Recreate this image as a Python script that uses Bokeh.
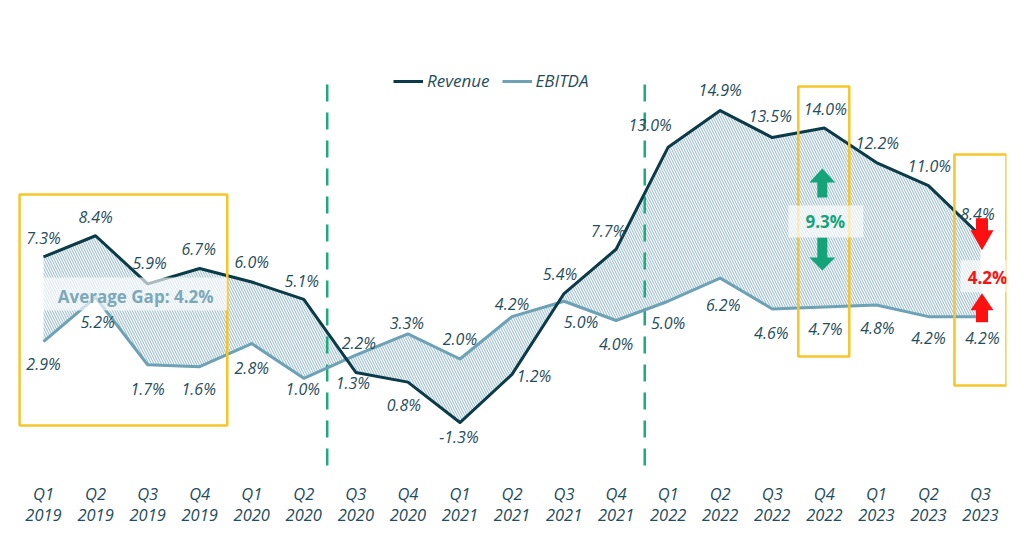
import numpy as np
from bokeh.plotting import figure
from bokeh.models import (ColumnDataSource, Range1d, FixedTicker, Legend, LegendItem,
                          Label, BoxAnnotation, LinearAxis)
from bokeh.core.properties import value
from bokeh.embed import file_html
from bokeh.resources import INLINE

# ---------------- data ----------------
quarters = ["Q1", "Q2", "Q3", "Q4", "Q1", "Q2", "Q3", "Q4", "Q1", "Q2",
            "Q3", "Q4", "Q1", "Q2", "Q3", "Q4", "Q1", "Q2", "Q3"]
years = ["2019", "2019", "2019", "2019", "2020", "2020", "2020", "2020", "2021", "2021",
         "2021", "2021", "2022", "2022", "2022", "2022", "2023", "2023", "2023"]
revenue = [7.3, 8.4, 5.9, 6.7, 6.0, 5.1, 1.3, 0.8, -1.3, 1.2,
           5.4, 7.7, 13.0, 14.9, 13.5, 14.0, 12.2, 11.0, 8.4]
ebitda = [2.9, 5.2, 1.7, 1.6, 2.8, 1.0, 2.2, 3.3, 2.0, 4.2,
          5.0, 4.0, 5.0, 6.2, 4.6, 4.7, 4.8, 4.2, 4.2]

# ---------------- layout / style ----------------
FW, FH = 989, 430
X0, X1 = -0.5, 18.5
Y0, Y1 = -3.79, 18.54
PXX = FW / (X1 - X0)
PXY = FH / (Y1 - Y0)

DARK = "#0b3a48"
LIGHT = "#6da2b6"
TXT = "#1f4e5e"
YELLOW = "#f6c529"
GREEN = "#15a47a"
RED = "#ff1010"
DASH = "#19ad7c"
FONT = "Open Sans"

# label offsets in px (dx, dy up)
rev_off = [(0, 19), (0, 19), (2, 21), (-1, 19), (0, 20), (-2, 18), (-3, -11), (-4, -23),
           (-1, -14), (22, -2), (-4, 20), (-8, 18), (-18, 22), (0, 21), (-2, 22), (1, 19),
           (1, 20), (1, 20), (-3, 22)]
eb_off = [(0, -22), (2, -25), (0, -24), (-1, -22), (0, -24), (-1, -11), (3, 12), (-1, 11),
          (0, 20), (0, 13), (17, -21), (0, -24), (0, -22), (3, -27), (-1, -24), (1, -22),
          (1, -23), (0, -21), (2, -21)]

x = np.arange(len(revenue))
rev = np.array(revenue)
eb = np.array(ebitda)

p = figure(frame_width=FW, frame_height=FH, output_backend="svg", toolbar_location=None,
           x_range=Range1d(X0, X1), y_range=Range1d(Y0, Y1), y_axis_location=None,
           min_border_left=17, min_border_right=10, min_border_top=40, min_border_bottom=58)
p.outline_line_color = None
p.xgrid.visible = False
p.ygrid.visible = False
p.background_fill_color = "white"

# hatched gap area
p.varea(x=x, y1=rev, y2=eb, fill_color="#f5f9fb", fill_alpha=1.0,
        hatch_pattern="\\", hatch_color="#98bac9", hatch_scale=5, hatch_weight=1)

# period separators
breaks = [5.45, 11.55]
p.segment(x0=breaks, y0=[-3.53] * 2, x1=breaks, y1=[16.6] * 2,
          line_color=DASH, line_width=2.5, line_dash="17 11")

r_eb = p.line(x, eb, line_color=LIGHT, line_width=3, line_join="round")
r_rev = p.line(x, rev, line_color=DARK, line_width=3, line_join="round")

# data labels
def fmt(v):
    return f"{v:.1f}%"

src_rev = ColumnDataSource(dict(
    x=[i + o[0] / PXX for i, o in zip(x, rev_off)],
    y=[v + o[1] / PXY for v, o in zip(revenue, rev_off)],
    t=[fmt(v) for v in revenue]))
src_eb = ColumnDataSource(dict(
    x=[i + o[0] / PXX for i, o in zip(x, eb_off)],
    y=[v + o[1] / PXY for v, o in zip(ebitda, eb_off)],
    t=[fmt(v) for v in ebitda]))
for s in (src_rev, src_eb):
    p.text(x="x", y="y", text="t", source=s, text_font=value(FONT), text_font_style="italic",
           text_font_size="16px", text_color=TXT, text_align="center", text_baseline="middle")

# highlight boxes
for l, r, t, b in [(-0.46, 3.53, 10.54, -1.45), (14.5, 15.48, 16.15, 2.13), (17.5, 18.5, 12.62, 0.62)]:
    p.add_layout(BoxAnnotation(left=l, right=r, top=t, bottom=b, fill_alpha=0,
                               line_color=YELLOW, line_alpha=1.0, line_width=2.5))

# average gap 2019
avg_gap = np.mean(rev[:4] - eb[:4])
p.add_layout(BoxAnnotation(left=-0.02, right=3.53, top=6.23, bottom=4.52,
                           fill_color="white", fill_alpha=0.65, line_alpha=0))
p.add_layout(Label(x=1.77, y=5.24, text=f"Average Gap: {avg_gap:.1f}%", text_font=FONT,
                   text_font_style="bold", text_font_size="17px", text_color="#7ba8ba",
                   text_align="center", text_baseline="middle"))

# gap call-outs
def arrow(ax, ay, dx, tip, base, end, hw, sw):
    # pixel offsets (up positive) -> data
    pts = [(-sw, end), (-sw, base), (-hw, base), (0, tip), (hw, base), (sw, base), (sw, end)]
    return ([ax + (dx + px) / PXX for px, _ in pts], [ay + py / PXY for _, py in pts])

def callout(i, color, up, down, tdx, tdy, band, adx, hw, sw):
    gap = revenue[i] - ebitda[i]
    ay = (revenue[i] + ebitda[i]) / 2
    xs1, ys1 = arrow(i, ay, adx, *up, hw, sw)
    xs2, ys2 = arrow(i, ay, adx, *down, hw, sw)
    p.patches([xs1, xs2], [ys1, ys2], fill_color=color, line_color=None)
    bl, br, bt, bb = band
    p.add_layout(BoxAnnotation(left=i + bl / PXX, right=i + br / PXX, top=ay + bt / PXY,
                               bottom=ay + bb / PXY, fill_color="white", fill_alpha=0.65,
                               line_alpha=0))
    p.add_layout(Label(x=i + tdx / PXX, y=ay + tdy / PXY, text=f"{gap:.1f}%", text_font=FONT,
                       text_font_style="bold", text_font_size="17px", text_color=color,
                       text_align="center", text_baseline="middle"))

callout(15, GREEN, (49, 35, 20), (-53, -40, -20), 1, -4, (-36, 39, 12, -20), -2, 13, 5)
callout(18, RED, (-17, -34, -46), (26, 46, 58), 7, -1, (-20, 30, 16, -16), 1.5, 11.5, 6)

# legend
legend = Legend(items=[LegendItem(label="Revenue", renderers=[r_rev]),
                       LegendItem(label="EBITDA", renderers=[r_eb])],
                orientation="horizontal", location=(376, 378),
                label_text_font=FONT, label_text_font_style="italic",
                label_text_font_size="17px", label_text_color=TXT,
                glyph_width=30, glyph_height=20, label_standoff=4, spacing=12,
                padding=0, margin=0, border_line_alpha=0, background_fill_alpha=0)
p.add_layout(legend)

# x axes: quarters, then years below
ticks = FixedTicker(ticks=list(range(len(quarters))))

def style_axis(ax, labels, standoff):
    ax.ticker = ticks
    ax.major_label_overrides = {i: t for i, t in enumerate(labels)}
    ax.axis_line_color = None
    ax.major_tick_line_color = None
    ax.minor_tick_line_color = None
    ax.major_tick_out = 0
    ax.major_tick_in = 0
    ax.minor_tick_out = 0
    ax.minor_tick_in = 0
    ax.major_label_standoff = standoff
    ax.major_label_text_font = FONT
    ax.major_label_text_font_style = "italic"
    ax.major_label_text_font_size = "16.5px"
    ax.major_label_text_color = TXT

style_axis(p.xaxis[0], quarters, 11)
ya = LinearAxis()
style_axis(ya, years, 1)
p.add_layout(ya, "below")

open("out.html", "w").write(file_html(p, INLINE))
